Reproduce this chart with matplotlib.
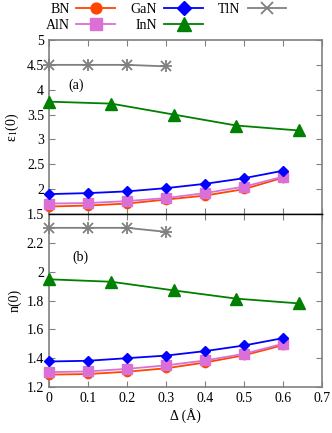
import matplotlib
matplotlib.use('Agg')
import matplotlib.pyplot as plt

plt.rcParams['font.family'] = 'Liberation Serif'
plt.rcParams['mathtext.fontset'] = 'stix'
plt.rcParams['font.size'] = 10

# data
x_std = [0, 0.1, 0.2, 0.3, 0.4, 0.5, 0.6]
x_inn = [0, 0.16, 0.32, 0.48, 0.64]
x_tln = [0, 0.1, 0.2, 0.3]

eps_bn = [1.65, 1.67, 1.71, 1.79, 1.87, 2.0, 2.23]
eps_aln = [1.71, 1.72, 1.76, 1.82, 1.92, 2.05, 2.25]
eps_gan = [1.90, 1.92, 1.955, 2.02, 2.107, 2.22, 2.37]
eps_inn = [3.76, 3.72, 3.50, 3.28, 3.18]
eps_tln = [4.5, 4.5, 4.5, 4.47]

n_bn = [1.286, 1.29, 1.306, 1.33, 1.37, 1.42, 1.49]
n_aln = [1.303, 1.308, 1.326, 1.35, 1.384, 1.43, 1.50]
n_gan = [1.377, 1.382, 1.40, 1.418, 1.449, 1.488, 1.539]
n_inn = [1.947, 1.93, 1.87, 1.813, 1.78]
n_tln = [2.304, 2.304, 2.304, 2.276]

fig = plt.figure(figsize=(3.32, 4.33), dpi=100)
ax1 = fig.add_axes([0.1476, 0.5058, 0.8224, 0.4018])
ax2 = fig.add_axes([0.1476, 0.1062, 0.8224, 0.3996])

styles = {
    'BN': dict(color='#ff4500', marker='o', ms=6),
    'AlN': dict(color='#da70d6', marker='s', ms=7),
    'GaN': dict(color='#0000ff', marker='D', ms=5.5),
    'InN': dict(color='#008000', marker='^', ms=8),
    'TlN': dict(color='#808080', marker='x', ms=7, mew=1.3),
}

def draw(ax, bn, aln, gan, inn, tln):
    lines = []
    for name, xs, ys in [('BN', x_std, bn), ('AlN', x_std, aln), ('GaN', x_std, gan),
                         ('InN', x_inn, inn), ('TlN', x_tln, tln)]:
        st = dict(styles[name])
        l, = ax.plot(xs, ys, lw=1.3, label=name, clip_on=False, zorder=3, **st)
        if name == 'TlN':
            ax.plot(xs, ys, lw=0, marker='+', ms=9, mew=1.3, color=st['color'],
                    clip_on=False, zorder=3)
        lines.append(l)
    ax.set_xlim(0, 0.7)
    ax.set_xticks([0, 0.1, 0.2, 0.3, 0.4, 0.5, 0.6, 0.7])
    ax.tick_params(direction='in', top=True, right=True, color='#808080', length=4)
    for s in ax.spines.values():
        s.set_color('#808080')
        s.set_linewidth(1.2)
    return lines

lines = draw(ax1, eps_bn, eps_aln, eps_gan, eps_inn, eps_tln)
draw(ax2, n_bn, n_aln, n_gan, n_inn, n_tln)

ax1.set_ylim(1.5, 5)
ax1.set_yticks([1.5, 2, 2.5, 3, 3.5, 4, 4.5, 5])
ax1.set_yticklabels(['1.5', '2', '2.5', '3', '3.5', '4', '4.5', '5'])
ax1.tick_params(labelbottom=False)
ax1.spines['bottom'].set_color('black')
ax1.spines['bottom'].set_linewidth(1.0)
ax1.set_ylabel('ε$_1$(0)', labelpad=4)
ax1.text(0.07, 4.09, '(a)', ha='center', va='center')

ax2.set_ylim(1.2, 2.4)
ax2.set_yticks([1.2, 1.4, 1.6, 1.8, 2.0, 2.2, 2.4])
ax2.set_yticklabels(['1.2', '1.4', '1.6', '1.8', '2', '2.2', ''])
ax2.spines['top'].set_color('black')
ax2.spines['top'].set_linewidth(1.0)
ax2.set_xticklabels(['0', '0.1', '0.2', '0.3', '0.4', '0.5', '0.6', '0.7'])
ax2.set_ylabel('n(0)', labelpad=4)
ax2.set_xlabel('Δ (Å)', labelpad=2)
ax2.text(0.08, 2.1, '(b)', ha='center', va='center')

fig.legend(handles=lines, loc='upper left', bbox_to_anchor=(0.135, 0.995), ncol=3,
           frameon=False, markerfirst=False, handlelength=2.8, columnspacing=1.1,
           handletextpad=0.5, labelspacing=0.25, borderaxespad=0, borderpad=0.05,
           markerscale=1.3)

fig.savefig('out.png', dpi=100)
